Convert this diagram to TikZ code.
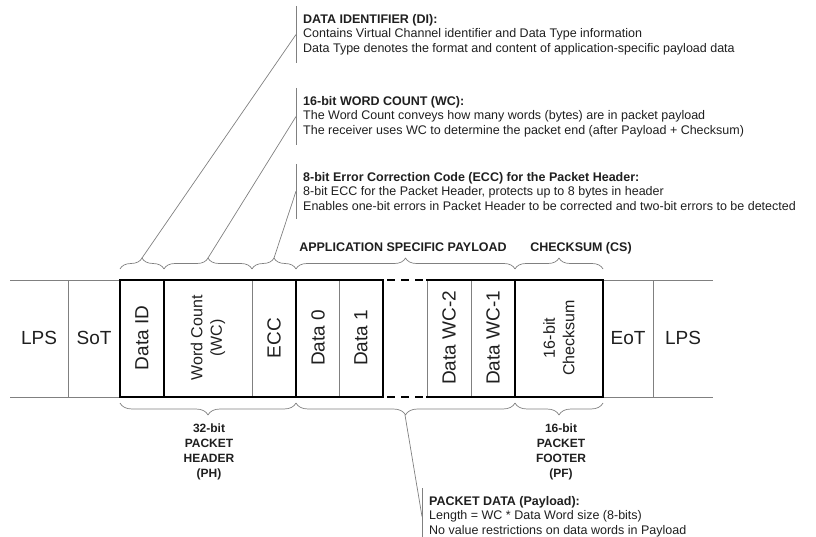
\documentclass[tikz,border=0pt]{standalone}
\usepackage{fontspec}
\setmainfont{Liberation Sans}
\usetikzlibrary{decorations.pathreplacing}
\definecolor{inkgray}{rgb}{0.12,0.12,0.12}
\definecolor{rulegray}{rgb}{0.5,0.5,0.5}

\begin{document}
\begin{tikzpicture}[x=1pt,y=-1pt,line join=round,
  thinrule/.style={line width=0.9pt,color=rulegray},
  thickrule/.style={line width=1.7pt,color=black,line cap=rect},
  gaprule/.style={line width=1.7pt,color=black,dash pattern=on 8pt off 6pt},
  braceup/.style={line width=0.7pt,color=rulegray,decorate,decoration={brace,amplitude=11pt}},
  bracedown/.style={line width=0.7pt,color=rulegray,decorate,decoration={brace,amplitude=12pt}},
  leader/.style={line width=0.7pt,color=rulegray},
  field/.style={font=\fontsize{19}{22}\selectfont,text=inkgray,inner sep=0pt},
  vfield/.style={field,rotate=90},
  vsmall/.style={font=\fontsize{16}{19.5}\selectfont,text=inkgray,inner sep=0pt,rotate=90,align=center},
  note/.style={anchor=north west,inner xsep=7pt,inner ysep=8pt,align=left,
    font=\fontsize{12.5}{14.5}\selectfont,text=inkgray},
  hdr/.style={font=\fontsize{12.5}{15}\selectfont\bfseries,text=inkgray,inner sep=0pt}]
  \useasboundingbox (0,0) rectangle (816,537);

  % outer thin rails
  \draw[thinrule] (10,280)--(120,280);
  \draw[thinrule] (10,397)--(120,397);
  \draw[thinrule] (603,280)--(713,280);
  \draw[thinrule] (603,397)--(713,397);
  % thin dividers
  \draw[thinrule] (68,280)--(68,397);
  \draw[thinrule] (252,280)--(252,397);
  \draw[thinrule] (339,280)--(339,397);
  \draw[thinrule] (427,280)--(427,397);
  \draw[thinrule] (471,280)--(471,397);
  \draw[thinrule] (653,280)--(653,397);
  % packet frame
  \draw[thickrule] (120,280)--(383,280);
  \draw[thickrule] (120,397)--(383,397);
  \draw[thickrule] (427,280)--(603,280);
  \draw[thickrule] (427,397)--(603,397);
  \draw[gaprule] (387,280)--(427,280);
  \draw[gaprule] (387,397)--(427,397);
  \draw[thickrule] (120,280)--(120,397);
  \draw[thickrule] (164,280)--(164,397);
  \draw[thickrule] (296,280)--(296,397);
  \draw[thickrule] (383,280)--(383,397);
  \draw[thickrule] (515,280)--(515,397);
  \draw[thickrule] (603,280)--(603,397);

  % field labels
  \node[field] (lpsA) at (39,338) {LPS};
  \node[field] (sot) at (94,338) {SoT};
  \node[vfield] (did) at (142,338) {Data ID};
  \node[vsmall] (wcnt) at (208,338) {Word Count\\(WC)};
  \node[vfield] (ecc) at (274,338) {ECC};
  \node[vfield] (dat0) at (318,338) {Data 0};
  \node[vfield] (dat1) at (361,338) {Data 1};
  \node[vfield] (datm2) at (449,338) {Data WC-2};
  \node[vfield] (datm1) at (493,338) {Data WC-1};
  \node[vsmall] (csum) at (559,338) {16-bit\\Checksum};
  \node[field] (eot) at (628,338) {EoT};
  \node[field] (lpsB) at (683,338) {LPS};

  % braces above
  \draw[braceup] (120,269)--(164,269);
  \draw[braceup] (164,269)--(252,269);
  \draw[braceup] (252,269)--(296,269);
  \draw[braceup] (296,269)--(515,269);
  \draw[braceup] (515,269)--(603,269);
  \coordinate (didTip) at (142,258);
  \coordinate (wcTip) at (208,258);
  \coordinate (eccTip) at (274,258);
  \node[hdr,anchor=base] (asp) at (403,252) {APPLICATION SPECIFIC PAYLOAD};
  \node[hdr,anchor=base] (cs) at (581,252) {CHECKSUM (CS)};

  % braces below
  \draw[bracedown] (296,403)--(120,403);
  \draw[bracedown] (515,403)--(296,403);
  \draw[bracedown] (603,403)--(515,403);
  \coordinate (pdTip) at (405,415);
  \node[hdr,align=center,anchor=north,font=\fontsize{12}{15}\selectfont\bfseries] (ph) at (209,424) {32-bit\\PACKET\\HEADER\\(PH)};
  \node[hdr,align=center,anchor=north,font=\fontsize{12}{15}\selectfont\bfseries] (pf) at (561,424) {16-bit\\PACKET\\FOOTER\\(PF)};

  % notes
  \node[note] (diNote) at (296,6) {\textbf{DATA IDENTIFIER (DI):}\\Contains Virtual Channel identifier and Data Type information\\Data Type denotes the format and content of application-specific payload data};
  \node[note] (wcNote) at (296,88) {\textbf{16-bit WORD COUNT (WC):}\\The Word Count conveys how many words (bytes) are in packet payload\\The receiver uses WC to determine the packet end (after Payload + Checksum)};
  \node[note] (eccNote) at (296,164) {\textbf{8-bit Error Correction Code (ECC) for the Packet Header:}\\8-bit ECC for the Packet Header, protects up to 8 bytes in header\\Enables one-bit errors in Packet Header to be corrected and two-bit errors to be detected};
  \node[note] (pdNote) at (422,488) {\textbf{PACKET DATA (Payload):}\\Length = WC * Data Word size (8-bits)\\No value restrictions on data words in Payload};
  \draw[leader] (diNote.north west)--(diNote.south west);
  \draw[leader] (wcNote.north west)--(wcNote.south west);
  \draw[leader] (eccNote.north west)--(eccNote.south west);
  \draw[leader] (pdNote.north west)--(pdNote.south west);

  % leaders
  \draw[leader] (didTip)--(diNote.west);
  \draw[leader] (wcTip)--(wcNote.west);
  \draw[leader] (eccTip)--(eccNote.west);
  \draw[leader] (pdTip)--(pdNote.west);
\end{tikzpicture}
\end{document}
